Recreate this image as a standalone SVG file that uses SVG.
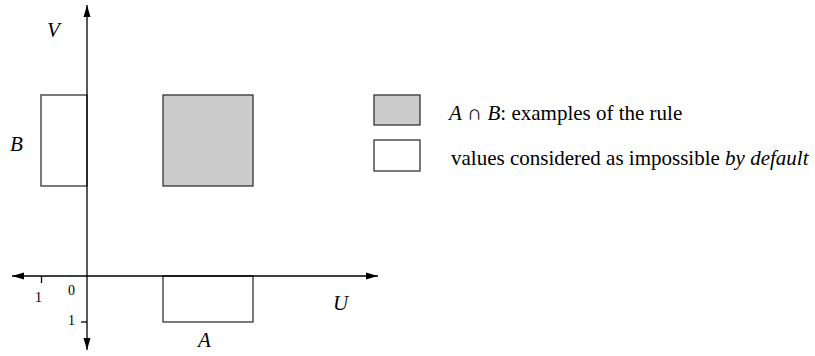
<svg xmlns="http://www.w3.org/2000/svg" width="815" height="356" viewBox="0 0 815 356">
<style>
.ax{stroke:#000;stroke-width:1.3;fill:none}
.bx{stroke:#333;stroke-width:1.3;fill:#fff}
.gr{fill:#cbcbcb}
.t{font-family:"Liberation Serif","Times New Roman",serif;font-size:21px;fill:#000}
.m{font-family:"Liberation Serif","Times New Roman",serif;font-style:italic;font-size:21px;fill:#000}
.n{font-family:"Liberation Serif","Times New Roman",serif;font-size:14px;fill:#000}
</style>
<defs>
<marker id="ah" markerWidth="12" markerHeight="8" refX="12" refY="4" orient="auto" markerUnits="userSpaceOnUse">
<path d="M0,0.5 L12,4 L0,7.5 Z" fill="#000"/>
</marker>
</defs>
<g id="B"><rect class="bx" x="41" y="95" width="46" height="91"/></g>
<g id="AB"><rect class="bx gr" x="163" y="95" width="90" height="91"/></g>
<g id="A"><rect class="bx" x="163" y="276" width="90" height="46"/></g>
<g id="connectors">
<line class="ax" x1="87" y1="276" x2="87" y2="5" marker-end="url(#ah)"/>
<line class="ax" x1="87" y1="276" x2="87" y2="350" marker-end="url(#ah)"/>
<line class="ax" x1="87" y1="276" x2="378" y2="276" marker-end="url(#ah)"/>
<line class="ax" x1="87" y1="276" x2="12" y2="276" marker-end="url(#ah)"/>
<line class="ax" x1="41.5" y1="276" x2="41.5" y2="283"/>
<line class="ax" x1="81" y1="322" x2="87" y2="322"/>
</g>
<g id="labels">
<text class="m" x="47" y="37">V</text>
<text class="m" x="10" y="151">B</text>
<text class="m" x="333" y="310">U</text>
<text class="m" x="198" y="347">A</text>
<text class="n" x="35" y="302">1</text>
<text class="n" x="68" y="295">0</text>
<text class="n" x="68" y="325">1</text>
</g>
<g id="legend">
<rect class="bx gr" x="374" y="95" width="46" height="30"/>
<rect class="bx" x="374" y="140" width="46" height="31"/>
<text class="t" x="449" y="120"><tspan font-style="italic">A</tspan> ∩ <tspan font-style="italic">B</tspan>: examples of the rule</text>
<text class="t" x="451" y="165">values considered as impossible <tspan font-style="italic">by default</tspan></text>
</g>
</svg>
